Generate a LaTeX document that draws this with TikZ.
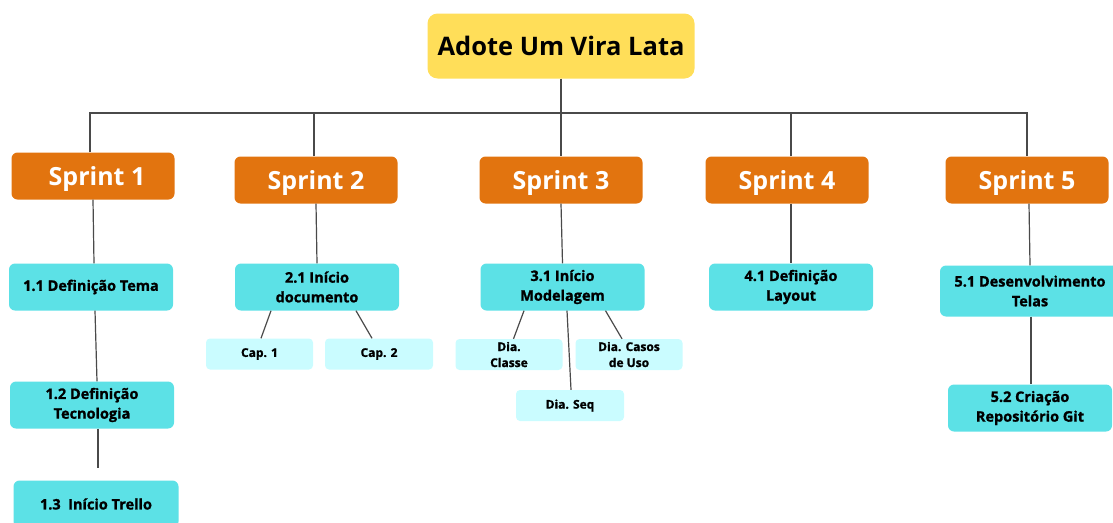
\documentclass[tikz,border=0pt]{standalone}
\usepackage{fontspec}
\setmainfont{Open Sans}
% a heavier cut of the bold face for the task boxes
\newfontfamily\heavysans{Open Sans}[BoldFeatures={FakeBold=1.2}]
\definecolor{titleyellow}{HTML}{FFDE59}
\definecolor{sprintorange}{HTML}{E2740F}
\definecolor{taskcyan}{HTML}{5CE1E6}
\definecolor{subcyan}{HTML}{CAFCFF}
\definecolor{linkgray}{HTML}{4A4A4A}
\begin{document}
\begin{tikzpicture}[x=1pt,y=-1pt,
  box/.style={rectangle, rounded corners=6pt, inner sep=0pt, align=center},
  titlebox/.style={box, fill=titleyellow, rounded corners=10pt, minimum width=267pt, minimum height=65pt, font=\fontsize{25.5}{30}\selectfont\bfseries},
  sprintbox/.style={box, fill=sprintorange, text=white, minimum width=163pt, minimum height=47pt, text height=18pt, text depth=0pt, font=\fontsize{25}{30}\selectfont\bfseries},
  taskbox/.style={box, fill=taskcyan, minimum width=164pt, minimum height=47pt, font=\fontsize{14.5}{19.7}\heavysans\bfseries},
  subbox/.style={box, fill=subcyan, rounded corners=4pt, minimum width=107pt, minimum height=31pt, font=\fontsize{12}{16}\heavysans\bfseries},
  link/.style={draw=linkgray, line width=1.2pt}
]
\useasboundingbox (0,0) rectangle (1113,522);
\clip (0,0) rectangle (1113,522);

% root
\node[titlebox] (root) at (561,46) {Adote Um Vira Lata};

% sprints
\node[sprintbox] (s1) at (93,176) {\kern8pt Sprint 1};
\node[sprintbox] (s2) at (316,180) {Sprint 2};
\node[sprintbox] (s3) at (561,180) {Sprint 3};
\node[sprintbox] (s4) at (787,180) {Sprint 4};
\node[sprintbox] (s5) at (1027,180) {Sprint 5};

% sprint 1 tasks
\node[taskbox] (t11) at (91,287) {1.1 Definição Tema};
\node[taskbox] (t12) at (92,405) {1.2 Definição\\Tecnologia};
\node[taskbox, minimum width=165pt] (t13) at (96,504) {1.3\ \ Início Trello};

% sprint 2 tasks
\node[taskbox] (t21) at (317,287) {2.1 Início\\documento};
\node[subbox] (cap1) at (259.5,354) {Cap. 1};
\node[subbox, minimum width=108pt] (cap2) at (379,354) {Cap. 2};

% sprint 3 tasks
\node[taskbox] (t31) at (562.5,287) {3.1 Início\\Modelagem};
\node[subbox] (dcl) at (509,354.5) {Dia.\\Classe};
\node[subbox] (dcu) at (629,354.5) {Dia. Casos\\de Uso};
\node[subbox, minimum width=108pt] (dsq) at (570,405.5) {Dia. Seq};

% sprint 4 tasks
\node[taskbox] (t41) at (791,287) {4.1 Definição\\Layout};

% sprint 5 tasks
\node[taskbox, minimum width=180pt, minimum height=51pt] (t51) at (1030,291) {5.1 Desenvolvimento\\Telas};
\node[taskbox] (t52) at (1030,408) {5.2 Criação\\Repositório Git};

% main bar
\coordinate (bar) at (561,113);
\path[link] (root.south) -- (s3.north);
\path[link] ([xshift=-3pt]s1.north) |- (bar) -| (s5.north);
\path[link] ([xshift=-2pt]s2.north) -- ([xshift=-2pt]s2.north |- bar);
\path[link] ([xshift=4pt]s4.north) -- ([xshift=4pt]s4.north |- bar);

% sprint 1 chain
\path[link] (s1.south) -- ([xshift=3pt]t11.north);
\path[link] ([xshift=4pt]t11.south) -- ([xshift=5pt]t12.north);
\path[link, shorten >=12pt] ([xshift=6pt]t12.south) -- ([xshift=2pt]t13.north);

% sprint 2 branch
\path[link] (s2.south) -- (t21.north);
\path[link] ([xshift=-46pt]t21.south) -- ([xshift=1.5pt]cap1.north);
\path[link] ([xshift=39pt]t21.south) -- ([xshift=-7pt]cap2.north);

% sprint 3 branch
\path[link] (s3.south) -- (t31.north);
\path[link] ([xshift=-38.5pt]t31.south) -- ([xshift=4.5pt]dcl.north);
\path[link] ([xshift=4.5pt]t31.south) -- ([xshift=1pt]dsq.north);
\path[link] ([xshift=43pt]t31.south) -- ([xshift=-7pt]dcu.north);

% sprint 4 branch
\path[link] ([xshift=4pt]s4.south) -- (t41.north);

% sprint 5 branch
\path[link] ([xshift=2pt]s5.south) -- (t51.north);
\path[link] ([xshift=1pt]t51.south) -- ([xshift=1pt]t52.north);
\end{tikzpicture}
\end{document}
